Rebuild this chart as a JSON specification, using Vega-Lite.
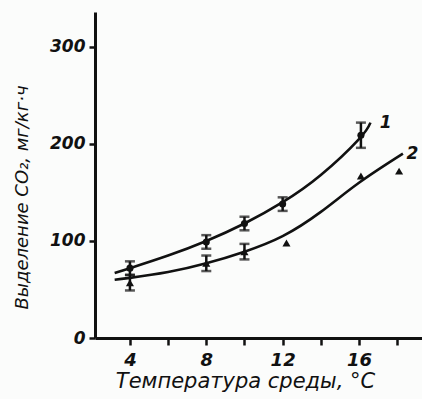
{
  "$schema": "https://vega.github.io/schema/vega-lite/v6.json",
  "autosize": "none",
  "width": 327,
  "height": 326,
  "padding": {"left": 95, "top": 12, "right": 0, "bottom": 61},
  "background": "#fbfcfb",
  "config": {
    "view": {"stroke": null},
    "axis": {
      "domainColor": "#111",
      "domainWidth": 3,
      "tickColor": "#111",
      "tickWidth": 2.5,
      "grid": false,
      "labelColor": "#111",
      "titleColor": "#111",
      "labelFont": "DejaVu Sans",
      "titleFont": "DejaVu Sans",
      "labelFontStyle": "italic",
      "titleFontStyle": "italic",
      "titleFontWeight": "normal"
    }
  },
  "datasets": {
    "curves": [
      {"series": "1", "t": 3.2, "v": 67},
      {"series": "1", "t": 4, "v": 72},
      {"series": "1", "t": 6, "v": 85},
      {"series": "1", "t": 8, "v": 100},
      {"series": "1", "t": 10, "v": 118},
      {"series": "1", "t": 12, "v": 140},
      {"series": "1", "t": 14, "v": 168},
      {"series": "1", "t": 16, "v": 205},
      {"series": "1", "t": 16.6, "v": 222},
      {"series": "2", "t": 3.2, "v": 60},
      {"series": "2", "t": 4, "v": 62},
      {"series": "2", "t": 6, "v": 68},
      {"series": "2", "t": 8, "v": 77},
      {"series": "2", "t": 10, "v": 89},
      {"series": "2", "t": 12, "v": 105},
      {"series": "2", "t": 14, "v": 130},
      {"series": "2", "t": 16, "v": 160},
      {"series": "2", "t": 18.3, "v": 190}
    ],
    "points": [
      {"series": "1", "t": 4, "v": 72, "lo": 65, "hi": 79},
      {"series": "1", "t": 8, "v": 99, "lo": 92, "hi": 106},
      {"series": "1", "t": 10, "v": 118, "lo": 111, "hi": 125},
      {"series": "1", "t": 12, "v": 138, "lo": 131, "hi": 145},
      {"series": "1", "t": 16.1, "v": 209, "lo": 196, "hi": 222},
      {"series": "2", "t": 4, "v": 57, "lo": 49, "hi": 65},
      {"series": "2", "t": 8, "v": 77, "lo": 69, "hi": 85},
      {"series": "2", "t": 10, "v": 89, "lo": 81, "hi": 97},
      {"series": "2", "t": 12.2, "v": 98, "lo": null, "hi": null},
      {"series": "2", "t": 16.1, "v": 167, "lo": null, "hi": null},
      {"series": "2", "t": 18.1, "v": 172, "lo": null, "hi": null}
    ],
    "labels": [
      {"label": "1", "t": 17.4, "v": 222},
      {"label": "2", "t": 18.8, "v": 190}
    ]
  },
  "encoding": {
    "x": {
      "field": "t",
      "type": "quantitative",
      "scale": {"domain": [2.17, 19.3], "nice": false, "zero": false},
      "axis": {
        "title": "Температура среды, °С",
        "titleFontSize": 21,
        "titleX": 150,
        "titlePadding": 1,
        "values": [4, 6, 8, 10, 12, 14, 16, 18],
        "labelExpr": "datum.value % 4 === 0 ? datum.label : ''",
        "labelFontSize": 18,
        "labelFontWeight": "bold",
        "tickSize": 7,
        "labelPadding": 6
      }
    },
    "y": {
      "field": "v",
      "type": "quantitative",
      "scale": {"domain": [0, 336], "nice": false},
      "axis": {
        "title": "Выделение CO₂, мг/кг·ч",
        "titleFontSize": 18,
        "titleX": -73,
        "titleY": 185,
        "titleAlign": "center",
        "titleBaseline": "middle",
        "values": [0, 100, 200, 300],
        "labelFontSize": 17,
        "labelFontWeight": "bold",
        "tickSize": 6,
        "labelPadding": 4
      }
    }
  },
  "layer": [
    {
      "data": {"name": "curves"},
      "mark": {"type": "line", "interpolate": "natural", "color": "#111", "strokeWidth": 2.6},
      "encoding": {"detail": {"field": "series"}}
    },
    {
      "data": {"name": "points"},
      "transform": [{"filter": "datum.lo != null"}],
      "mark": {"type": "rule", "color": "#111", "strokeWidth": 2.5},
      "encoding": {"y": {"field": "lo", "type": "quantitative"}, "y2": {"field": "hi"}}
    },
    {
      "data": {"name": "points"},
      "transform": [{"filter": "datum.lo != null"}],
      "mark": {"type": "tick", "orient": "horizontal", "color": "#111", "thickness": 2.5, "size": 10},
      "encoding": {"y": {"field": "lo", "type": "quantitative"}}
    },
    {
      "data": {"name": "points"},
      "transform": [{"filter": "datum.lo != null"}],
      "mark": {"type": "tick", "orient": "horizontal", "color": "#111", "thickness": 2.5, "size": 10},
      "encoding": {"y": {"field": "hi", "type": "quantitative"}}
    },
    {
      "data": {"name": "points"},
      "mark": {"type": "point", "filled": true, "color": "#111", "opacity": 1},
      "encoding": {
        "shape": {"field": "series", "type": "nominal", "scale": {"domain": ["1", "2"], "range": ["circle", "triangle-up"]}, "legend": null},
        "size": {"field": "series", "type": "nominal", "scale": {"domain": ["1", "2"], "range": [50, 65]}, "legend": null}
      }
    },
    {
      "data": {"name": "labels"},
      "mark": {"type": "text", "font": "DejaVu Sans", "fontStyle": "italic", "fontWeight": "bold", "fontSize": 17, "color": "#111"},
      "encoding": {"text": {"field": "label"}}
    }
  ]
}
